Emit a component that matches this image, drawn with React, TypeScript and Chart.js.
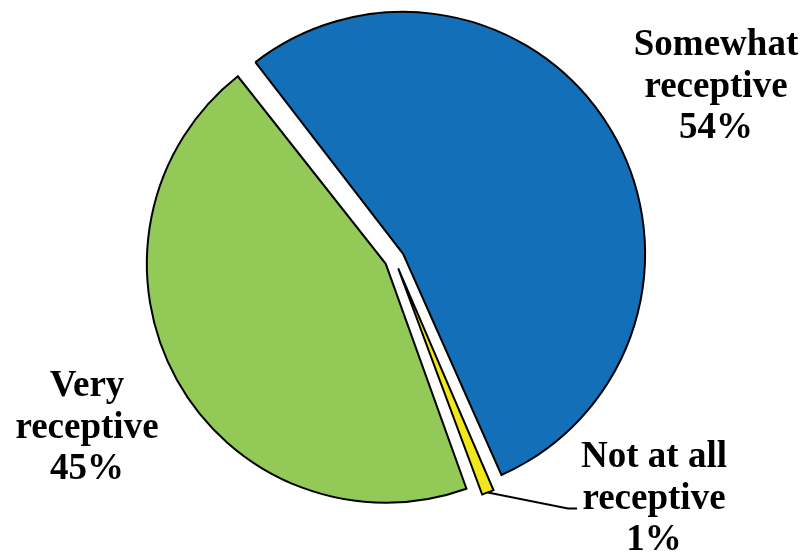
import React, { useEffect, useRef } from "react";
import { Chart, registerables } from "chart.js";

Chart.register(...registerables);

const categories = ["Somewhat receptive", "Not at all receptive", "Very receptive"];
const values = [54, 1, 45];
const percentLabels = ["54%", "1%", "45%"];
const colors = ["#136fb8", "#f1e71c", "#92c957"];

const labelLines: string[][] = [
  ["Somewhat", "receptive", percentLabels[0]],
  ["Not at all", "receptive", percentLabels[1]],
  ["Very", "receptive", percentLabels[2]],
];
// label anchor (center x, first baseline y)
const labelAnchors = [
  { x: 716, y: 55 },
  { x: 654, y: 467 },
  { x: 87, y: 396 },
];
const LINE_H = 41.5;
const OFFSET = 40;

const labelPlugin = {
  id: "pieLabels",
  afterDatasetsDraw(chart: any) {
    const ctx = chart.ctx;
    const meta = chart.getDatasetMeta(0);
    ctx.save();
    // leader line for the small slice
    const arc: any = meta.data[1];
    if (arc) {
      const mid = (arc.startAngle + arc.endAngle) / 2;
      const off = OFFSET / 4;
      const circ = arc.endAngle - arc.startAngle;
      const fix = 1 - Math.sin(Math.min(Math.PI, circ));
      const r = arc.outerRadius + off * fix;
      const sx = arc.x + Math.cos(mid) * off + Math.cos(mid) * r;
      const sy = arc.y + Math.sin(mid) * off + Math.sin(mid) * r;
      const a = labelAnchors[1];
      const ey = a.y + LINE_H;
      ctx.beginPath();
      ctx.strokeStyle = "#000";
      ctx.lineWidth = 2;
      ctx.moveTo(sx, sy);
      ctx.lineTo(a.x - 86, ey);
      ctx.lineTo(a.x - 77, ey);
      ctx.stroke();
    }
    ctx.fillStyle = "#000";
    ctx.font = "bold 37px 'Liberation Serif', 'Times New Roman', serif";
    ctx.textAlign = "center";
    ctx.textBaseline = "alphabetic";
    labelLines.forEach((lines, i) => {
      const a = labelAnchors[i];
      lines.forEach((t, j) => ctx.fillText(t, a.x, a.y + j * LINE_H));
    });
    ctx.restore();
  },
};

export default function App() {
  const ref = useRef<HTMLCanvasElement>(null);
  useEffect(() => {
    if (!ref.current) return;
    const chart = new Chart(ref.current, {
      type: "pie",
      data: {
        labels: categories,
        datasets: [
          {
            data: values,
            backgroundColor: colors,
            borderColor: "#000",
            borderWidth: 2,
            borderJoinStyle: "miter",
            offset: OFFSET,
          } as any,
        ],
      },
      options: {
        responsive: false,
        animation: false,
        rotation: -38,
        radius: 232,
        layout: { padding: { left: 0, right: 15, top: 0, bottom: 39 } },
        plugins: {
          legend: { display: false },
          tooltip: { enabled: false },
        },
      } as any,
      plugins: [labelPlugin],
    });
    return () => chart.destroy();
  }, []);
  return (
    <canvas
      ref={ref}
      width={804}
      height={557}
      style={{ position: "fixed", left: 0, top: 0, display: "block" }}
    />
  );
}
